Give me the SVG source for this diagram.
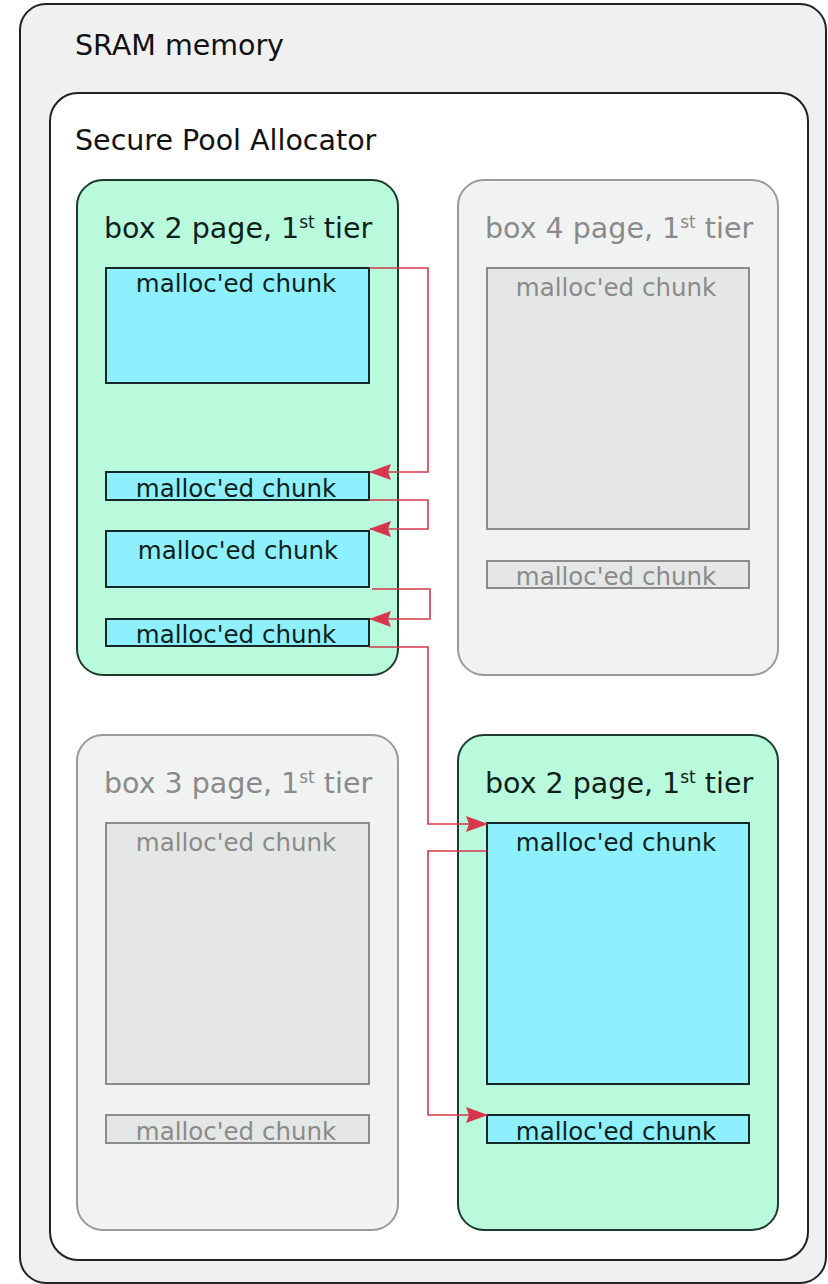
<svg xmlns="http://www.w3.org/2000/svg" width="828" height="1284" viewBox="0 0 828 1284">
  <style>
    text { font-family: "DejaVu Sans", "Liberation Sans", sans-serif; }
    .big { font-size: 28.5px; fill: #111; }
    .title { font-size: 28.5px; }
    .sup { font-size: 17px; }
    .ch { font-size: 24.5px; text-anchor: middle; }
    .on .title, .on .ch { fill: #0f1f1a; }
    .off .title, .off .ch { fill: #8a8a8a; }
    .pageOn { fill: #b9fadc; stroke: #1e3a2e; stroke-width: 2; }
    .pageOff { fill: #f1f2f2; stroke: #9a9a9a; stroke-width: 2; }
    .chunkOn { fill: #8ef0fd; stroke: #14282a; stroke-width: 2; }
    .chunkOff { fill: #e5e7e7; stroke: #8c8c8c; stroke-width: 2; }
    .conn { fill: none; stroke: #d6374e; stroke-width: 1.6; marker-end: url(#arrow); }
  </style>
  <defs>
    <marker id="arrow" viewBox="0 0 22 18" refX="21" refY="9" markerWidth="22" markerHeight="18" markerUnits="userSpaceOnUse" orient="auto">
      <path d="M22,9 L0,1 L3,9 L0,17 Z" fill="#d6374e"/>
    </marker>
  </defs>

  <g id="sram">
    <rect x="20" y="4" width="806" height="1279" rx="26" fill="#f0f0f0" stroke="#222" stroke-width="2"/>
    <text class="big" x="75" y="55">SRAM memory</text>
  </g>

  <g id="pool">
    <rect x="50" y="93" width="758" height="1167" rx="28" fill="#ffffff" stroke="#222" stroke-width="2"/>
    <text class="big" x="75" y="150">Secure Pool Allocator</text>
  </g>

  <g id="page-tl" class="on">
    <rect class="pageOn" x="77" y="180" width="321" height="495" rx="26"/>
    <text class="title" x="104" y="238">box 2 page, 1<tspan class="sup" dy="-10">st</tspan><tspan dy="10"> tier</tspan></text>
    <rect class="chunkOn" x="106" y="268" width="263" height="115"/>
    <text class="ch" x="236" y="292">malloc'ed chunk</text>
    <rect class="chunkOn" x="106" y="472" width="263" height="28"/>
    <text class="ch" x="236" y="497">malloc'ed chunk</text>
    <rect class="chunkOn" x="106" y="531" width="263" height="56"/>
    <text class="ch" x="238" y="559">malloc'ed chunk</text>
    <rect class="chunkOn" x="106" y="619" width="263" height="27"/>
    <text class="ch" x="236" y="643">malloc'ed chunk</text>
  </g>

  <g id="page-tr" class="off">
    <rect class="pageOff" x="458" y="180" width="320" height="495" rx="26"/>
    <text class="title" x="485" y="238">box 4 page, 1<tspan class="sup" dy="-10">st</tspan><tspan dy="10"> tier</tspan></text>
    <rect class="chunkOff" x="487" y="268" width="262" height="261"/>
    <text class="ch" x="616" y="296">malloc'ed chunk</text>
    <rect class="chunkOff" x="487" y="561" width="262" height="27"/>
    <text class="ch" x="616" y="585">malloc'ed chunk</text>
  </g>

  <g id="page-bl" class="off">
    <rect class="pageOff" x="77" y="735" width="321" height="495" rx="26"/>
    <text class="title" x="104" y="793">box 3 page, 1<tspan class="sup" dy="-10">st</tspan><tspan dy="10"> tier</tspan></text>
    <rect class="chunkOff" x="106" y="823" width="263" height="261"/>
    <text class="ch" x="236" y="851">malloc'ed chunk</text>
    <rect class="chunkOff" x="106" y="1115" width="263" height="28"/>
    <text class="ch" x="236" y="1140">malloc'ed chunk</text>
  </g>

  <g id="page-br" class="on">
    <rect class="pageOn" x="458" y="735" width="320" height="495" rx="26"/>
    <text class="title" x="485" y="793">box 2 page, 1<tspan class="sup" dy="-10">st</tspan><tspan dy="10"> tier</tspan></text>
    <rect class="chunkOn" x="487" y="823" width="262" height="261"/>
    <text class="ch" x="616" y="851">malloc'ed chunk</text>
    <rect class="chunkOn" x="487" y="1115" width="262" height="28"/>
    <text class="ch" x="616" y="1140">malloc'ed chunk</text>
  </g>

  <g id="connectors">
    <path class="conn" d="M369,268 H428 V472 H370"/>
    <path class="conn" d="M369,500 H428 V529 H370"/>
    <path class="conn" d="M372,589 H430 V619 H370"/>
    <path class="conn" d="M369,647 H428 V824 H487"/>
    <path class="conn" d="M487,851 H428 V1115 H487"/>
  </g>
</svg>
